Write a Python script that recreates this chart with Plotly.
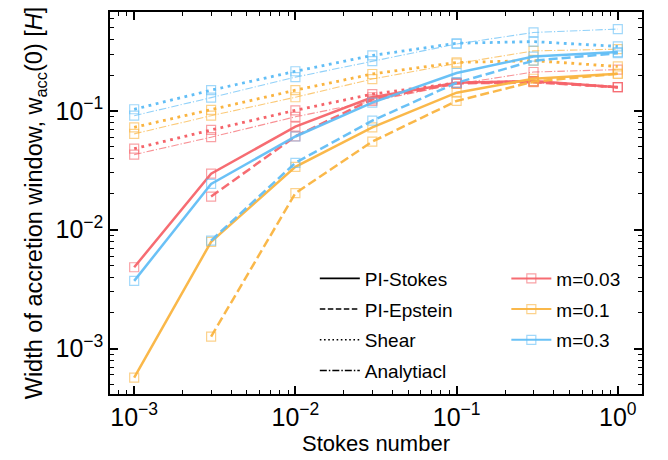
import plotly.graph_objects as go

stokes = [1e-3, 3e-3, 1e-2, 3e-2, 0.1, 0.3, 1.0]

# m = 0.03 (red)
red_stokes = [0.00483, 0.0296, 0.0736, 0.130, 0.172, 0.178, 0.158]
red_epstein = [None, 0.0190, 0.0610, 0.125, 0.170, 0.174, 0.158]
red_shear = [0.048, 0.069, 0.101, 0.138, 0.172, 0.176, 0.158]
red_analytic = [0.0428, 0.060, 0.089, 0.121, 0.168, 0.212, 0.222]

# m = 0.1 (orange)
orange_stokes = [0.00057, 0.0079, 0.0338, 0.0725, 0.142, 0.186, 0.205]
orange_epstein = [None, 0.00126, 0.0203, 0.0551, 0.121, 0.176, 0.205]
orange_shear = [0.0726, 0.102, 0.149, 0.204, 0.255, 0.264, 0.236]
orange_analytic = [0.064, 0.091, 0.130, 0.185, 0.250, 0.319, 0.330]

# m = 0.3 (blue)
blue_stokes = [0.00371, 0.0243, 0.0608, 0.117, 0.208, 0.286, 0.312]
blue_epstein = [None, 0.0081, 0.0365, 0.0826, 0.172, 0.264, 0.305]
blue_shear = [0.103, 0.149, 0.215, 0.292, 0.370, 0.382, 0.348]
blue_analytic = [0.091, 0.129, 0.192, 0.262, 0.365, 0.456, 0.487]

mass_labels = ["m=0.03", "m=0.1", "m=0.3"]
model_labels = ["PI-Stokes", "PI-Epstein", "Shear", "Analytiacl"]

x_tickvals = [1e-3, 1e-2, 1e-1, 1e0]
x_ticktext = ["10<sup>−3</sup>", "10<sup>−2</sup>", "10<sup>−1</sup>", "10<sup>0</sup>"]
y_tickvals = [1e-3, 1e-2, 1e-1]
y_ticktext = ["10<sup>−3</sup>", "10<sup>−2</sup>", "10<sup>−1</sup>"]

colors = {"red": (245, 100, 106), "orange": (250, 180, 64), "blue": (98, 190, 246)}

def rgba(c, a):
    return f"rgba({c[0]},{c[1]},{c[2]},{a})"

styles = {
    "stokes": dict(width=2.5, dash="solid", alpha=0.95),
    "epstein": dict(width=2.5, dash="9px,4px", alpha=0.95),
    "shear": dict(width=2.8, dash="2.8px,4.6px", alpha=1.0),
    "analytic": dict(width=1.1, dash="7.5px,2px,1.2px,2px", alpha=0.7),
}

series = [
    ("red", "stokes", red_stokes), ("red", "epstein", red_epstein),
    ("red", "shear", red_shear), ("red", "analytic", red_analytic),
    ("orange", "stokes", orange_stokes), ("orange", "epstein", orange_epstein),
    ("orange", "shear", orange_shear), ("orange", "analytic", orange_analytic),
    ("blue", "stokes", blue_stokes), ("blue", "epstein", blue_epstein),
    ("blue", "shear", blue_shear), ("blue", "analytic", blue_analytic),
]

fig = go.Figure()
for cname, sname, vals in series:
    st = styles[sname]
    c = colors[cname]
    fig.add_trace(go.Scatter(
        x=stokes, y=vals, mode="lines+markers", showlegend=False,
        line=dict(color=rgba(c, st["alpha"]), width=st["width"], dash=st["dash"]),
        marker=dict(symbol="square-open", size=9, color=rgba(c, 0.6),
                    line=dict(width=1.2, color=rgba(c, 0.6))),
        connectgaps=False,
    ))

# legend 1: line styles
leg_styles = [("solid", 1.6), ("5.5px,2.5px", 1.5), ("1.6px,2.6px", 1.6), ("7px,2px,1.5px,2px", 1.4)]
for i, (lab, (dash, w)) in enumerate(zip(model_labels, leg_styles)):
    fig.add_trace(go.Scatter(
        x=[None], y=[None], mode="lines", name=lab, legend="legend",
        legendgroup=f"a{i}", line=dict(color="black", width=w, dash=dash),
    ))
# legend 2: colours
for i, (lab, cname) in enumerate(zip(mass_labels, ["red", "orange", "blue"])):
    c = colors[cname]
    fig.add_trace(go.Scatter(
        x=[None], y=[None], mode="lines+markers", name=lab, legend="legend2",
        legendgroup=f"b{i}", line=dict(color=rgba(c, 0.95), width=2),
        marker=dict(symbol="square-open", size=9, color=rgba(c, 0.6),
                    line=dict(width=1.2, color=rgba(c, 0.6))),
    ))

font = "Liberation Sans"
axis_common = dict(
    showline=True, linecolor="black", linewidth=1.5, mirror="allticks",
    ticks="inside", ticklen=8, tickwidth=1.5, tickcolor="black",
    showgrid=False, zeroline=False, tickfont=dict(family=font, size=25, color="black"),
)
minor_x = [m * 10 ** e for e in range(-4, 1) for m in range(2, 10)]
minor_y = [m * 10 ** e for e in range(-4, 0) for m in range(2, 10)]

fig.update_xaxes(
    type="log", range=[-3.15, 0.15], tickmode="array", tickvals=x_tickvals, ticktext=x_ticktext,
    minor=dict(ticks="inside", ticklen=4, tickwidth=1, tickcolor="black", tickmode="array", tickvals=minor_x, showgrid=False),
    title=dict(text="Stokes number", font=dict(family=font, size=22, color="black"), standoff=4),
    **axis_common,
)
fig.update_yaxes(
    type="log", range=[-3.382, -0.169], tickmode="array", tickvals=y_tickvals, ticktext=y_ticktext,
    minor=dict(ticks="inside", ticklen=4, tickwidth=1, tickcolor="black", tickmode="array", tickvals=minor_y, showgrid=False),
    title=dict(text="Width of accretion window, w<sub>acc</sub>(0) [<i>H</i>]", font=dict(family=font, size=23.5, color="black"), standoff=6),
    **axis_common,
)

legend_common = dict(
    bgcolor="rgba(0,0,0,0)", borderwidth=0, font=dict(family=font, size=19, color="black"),
    traceorder="grouped", tracegroupgap=3, xanchor="left", yanchor="top", itemwidth=40,
)
fig.update_layout(
    width=668, height=460,
    margin=dict(l=110, r=26, t=10, b=63),
    paper_bgcolor="white", plot_bgcolor="white",
    legend=dict(x=0.385, y=0.352, **legend_common),
    legend2=dict(x=0.745, y=0.352, **legend_common),
)

fig.write_html("out.html")
